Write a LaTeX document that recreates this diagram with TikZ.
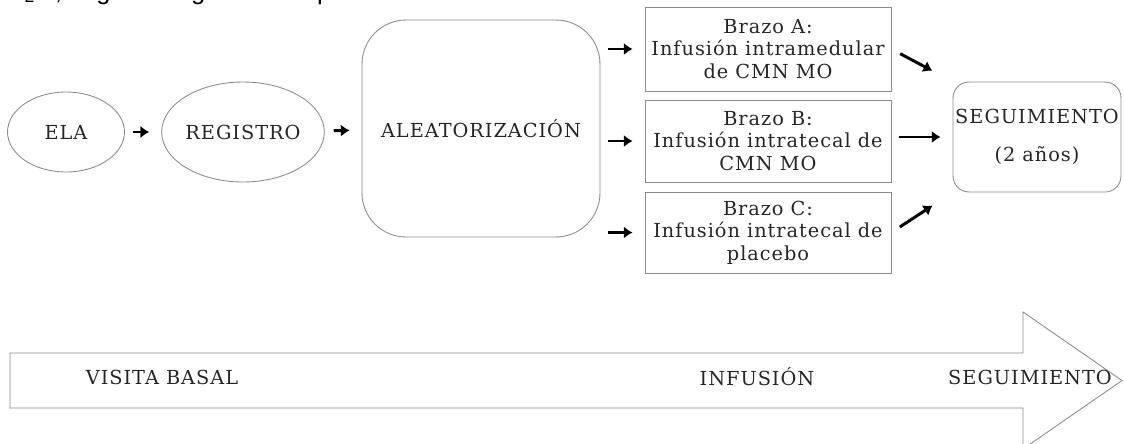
\documentclass[tikz,border=0pt]{standalone}
\usepackage{fontspec}
\setmainfont{DejaVu Serif}[LetterSpace=5]
\newfontfamily\textosup{Liberation Sans}
\usepackage{tikz}
\usetikzlibrary{positioning,calc,shapes.geometric,arrows.meta}

\begin{document}
\begin{tikzpicture}[x=0.02cm,y=-0.02cm,
                    caja/.style={draw=black!45, line width=0.5pt},
                    elipse/.style={caja, ellipse, inner sep=0pt},
                    brazo/.style={caja, rectangle, minimum width=4.92cm, align=center, inner sep=0pt},
                    flecha/.style={-{Latex[length=5pt,width=7pt]}, line width=1.7pt, shorten <=0.16cm, shorten >=0.24cm},
                    every node/.style={font=\fontsize{11}{12.75}\selectfont, text=black!85}]
                    \useasboundingbox (0,0) rectangle (1124,443);
                    \node[anchor=base west, font=\textosup\fontsize{14.5}{16}\selectfont, text=black] (intro) at (0,-1) {H\textsubscript{2}O, según el siguiente esquema:};
                    \node[elipse, minimum width=2.34cm, minimum height=1.6cm] (ela) at (66,132) {ELA};
                    \node[elipse, minimum width=2.92cm, minimum height=2cm] (registro) at (243,132) {REGISTRO};
                    \node[caja, rectangle, rounded corners=0.88cm, minimum width=4.76cm, minimum height=4.34cm] (aleat) at (481,128.5) {ALEATORIZACIÓN};
                    \node[brazo, minimum height=1.68cm] (brazoA) at (768,49) {Brazo A:\\Infusión intramedular\\de CMN MO};
                    \node[brazo, minimum height=1.64cm] (brazoB) at (768,141) {Brazo B:\\Infusión intratecal de\\CMN MO};
                    \node[brazo, minimum height=1.62cm] (brazoC) at (768,232.5) {Brazo C:\\Infusión intratecal de\\placebo};
                    \node[caja, rectangle, rounded corners=0.32cm, minimum width=3.36cm, minimum height=2.2cm, align=center, inner sep=0pt] (seguim) at (1037,137) {SEGUIMIENTO\\[0.3cm](2 años)};
                    \draw[flecha] (ela) -- (registro);
                    \draw[flecha, shorten <=0.18cm] (registro) -- (aleat);
                    \draw[flecha] (aleat.east |- brazoA.west) -- (brazoA.west);
                    \draw[flecha] (aleat.east |- brazoB.west) -- (brazoB.west);
                    \draw[flecha] (aleat.east |- brazoC.west) -- (brazoC.west);
                    \draw[flecha, shorten <=0.2cm, shorten >=0.46cm] (brazoA.east) -- (seguim.north west);
                    \draw[flecha] (brazoB.east |- seguim.west) -- (seguim.west);
                    \draw[flecha, shorten <=0.2cm, shorten >=0.48cm] (brazoC.east) -- (seguim.south west);
                    \draw[caja] (10,353) -- (1023,353) -- (1023,312) -- (1122,380.5) -- (1023,449) -- (1023,408) -- (10,408) -- cycle;
                    \node (visita) at (162,377) {VISITA BASAL};
                    \node (infusion) at (757,377) {INFUSIÓN};
                    \node (seguimiento) at (1030,377) {SEGUIMIENTO};
                \end{tikzpicture}
\end{document}
